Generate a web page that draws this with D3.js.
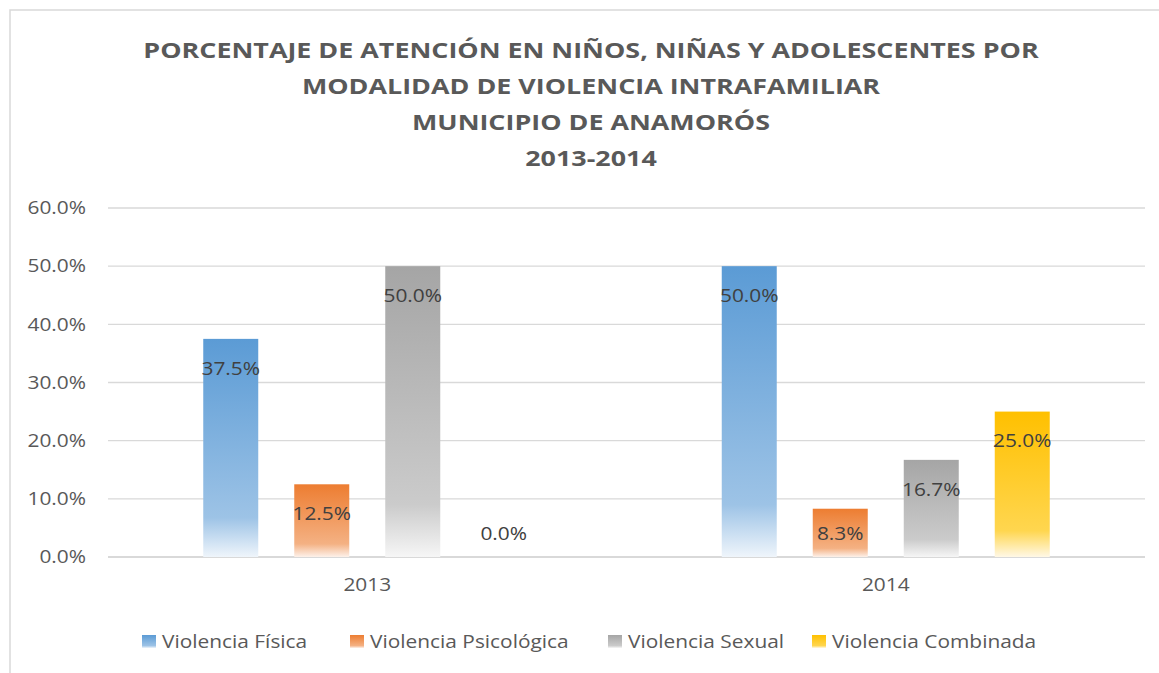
<!DOCTYPE html>
<html>
<head>
<meta charset="utf-8">
<script src="https://cdn.jsdelivr.net/npm/d3@7"></script>
<style>
  body { margin: 0; background: #fff; }
  text { font-family: "Open Sans", sans-serif; }
</style>
</head>
<body>
<div id="chart"></div>
<script>
var categories = ["2013", "2014"];
var seriesNames = ["Violencia Física", "Violencia Psicológica", "Violencia Sexual", "Violencia Combinada"];
var values2013 = [37.5, 12.5, 50.0, 0.0];
var values2014 = [50.0, 8.3, 16.7, 25.0];
var yTicks = [0, 10, 20, 30, 40, 50, 60];
var titleLines = ["PORCENTAJE DE ATENCIÓN EN NIÑOS, NIÑAS Y ADOLESCENTES POR",
  "MODALIDAD DE VIOLENCIA INTRAFAMILIAR", "MUNICIPIO DE ANAMORÓS", "2013-2014"];

// top colour, mid tint, bottom tint
var colors = [
  ["#5b9bd5", "#9dc3e6", "#eff5fb"],
  ["#ed7d31", "#f4b183", "#fdf1ea"],
  ["#a5a5a5", "#cbcbcb", "#f6f6f6"],
  ["#ffc000", "#ffd64f", "#fff8e6"]
];

var W = 1159, H = 673;
var values = { "2013": values2013, "2014": values2014 };
// the original text is drawn a bit wider than Open Sans
var wide = 1.16, wideTitle = 1.28, wideLbl = 1.1;
var fs = 18;

var svg = d3.select("#chart").append("svg")
    .attr("width", W)
    .attr("height", H);

var defs = svg.append("defs");
colors.forEach(function(c, i) {
  var g = defs.append("linearGradient")
      .attr("id", "grad" + i)
      .attr("x1", 0).attr("y1", 0).attr("x2", 0).attr("y2", 1);
  g.append("stop").attr("offset", "0%").attr("stop-color", c[0]);
  g.append("stop").attr("offset", "82%").attr("stop-color", c[1]);
  g.append("stop").attr("offset", "100%").attr("stop-color", c[2]);
});

// outer border (clipped on right and bottom like the original)
svg.append("rect")
    .attr("x", 10).attr("y", 10)
    .attr("width", W + 20).attr("height", H + 20)
    .attr("fill", "none")
    .attr("stroke", "#d9d9d9")
    .attr("stroke-width", 1.5);

// title
svg.append("g").selectAll("text")
  .data(titleLines)
  .enter().append("text")
    .attr("transform", function(d, i) {
      return "translate(591," + (58 + i * 36) + ") scale(" + wideTitle + ",1)";
    })
    .attr("text-anchor", "middle")
    .attr("font-size", 21)
    .attr("font-weight", "bold")
    .attr("fill", "#595959")
    .text(function(d) { return d; });

var plotLeft = 108, plotRight = 1145;

var x0 = d3.scaleBand()
    .domain(categories)
    .range([plotLeft, plotRight]);

var groupW = 328;
var x1 = d3.scaleBand()
    .domain(seriesNames)
    .range([0, groupW])
    .paddingInner(36 / 91);

var y = d3.scaleLinear()
    .domain([0, 60])
    .range([557, 208]);

// gridlines
svg.append("g").selectAll("line")
  .data(yTicks)
  .enter().append("line")
    .attr("x1", plotLeft).attr("x2", plotRight)
    .attr("y1", function(d) { return y(d); })
    .attr("y2", function(d) { return y(d); })
    .attr("stroke", "#d9d9d9")
    .attr("stroke-width", function(d) { return d === 0 ? 2 : 1.3; });

// y axis labels
var yAxis = d3.axisLeft(y)
    .tickValues(yTicks)
    .tickSize(0)
    .tickPadding(0)
    .tickFormat(function(d) { return d3.format(".1f")(d) + "%"; });

var yg = svg.append("g")
    .attr("transform", "translate(86,0)")
    .call(yAxis);
yg.select(".domain").remove();
yg.selectAll("text")
    .attr("transform", "scale(" + wide + ",1)")
    .attr("font-size", fs)
    .attr("fill", "#595959")
    .attr("font-family", "Open Sans, sans-serif");

// x axis labels
var xAxis = d3.axisBottom(x0).tickSize(0).tickPadding(0);
var xg = svg.append("g")
    .attr("transform", "translate(0,578)")
    .call(xAxis);
xg.select(".domain").remove();
xg.selectAll("text")
    .attr("transform", "scale(" + wide + ",1)")
    .attr("font-size", fs)
    .attr("fill", "#595959")
    .attr("font-family", "Open Sans, sans-serif");

// bars
var groups = svg.append("g").selectAll("g")
  .data(categories)
  .enter().append("g")
    .attr("transform", function(d) {
      return "translate(" + (x0(d) + (x0.bandwidth() - groupW) / 2) + ",0)";
    });

function rows(c) {
  return seriesNames.map(function(s, i) { return { s: s, i: i, v: values[c][i] }; });
}

groups.selectAll("rect")
  .data(rows)
  .enter().append("rect")
    .attr("x", function(d) { return x1(d.s); })
    .attr("y", function(d) { return y(d.v); })
    .attr("width", x1.bandwidth())
    .attr("height", function(d) { return y(0) - y(d.v); })
    .attr("fill", function(d) { return "url(#grad" + d.i + ")"; });

groups.selectAll("text.lbl")
  .data(rows)
  .enter().append("text")
    .attr("class", "lbl")
    .attr("transform", function(d) {
      var cx = x1(d.s) + x1.bandwidth() / 2;
      var cy = Math.min(y(d.v) + 29, y(0) - 24);
      return "translate(" + cx + "," + cy + ") scale(" + wideLbl + ",1)";
    })
    .attr("dy", "0.35em")
    .attr("text-anchor", "middle")
    .attr("font-size", 19)
    .attr("fill", "#404040")
    .text(function(d) { return d3.format(".1f")(d.v) + "%"; });

// legend
var legendX = [142, 350, 608, 812];
var legend = svg.append("g").selectAll("g")
  .data(seriesNames)
  .enter().append("g")
    .attr("transform", function(d, i) { return "translate(" + legendX[i] + ",635)"; });

legend.append("rect")
    .attr("width", 14).attr("height", 13)
    .attr("fill", function(d, i) { return "url(#grad" + i + ")"; });

legend.append("text")
    .attr("transform", "translate(20,7) scale(" + wide + ",1)")
    .attr("dy", "0.35em")
    .attr("font-size", fs)
    .attr("fill", "#595959")
    .text(function(d) { return d; });
</script>
</body>
</html>
